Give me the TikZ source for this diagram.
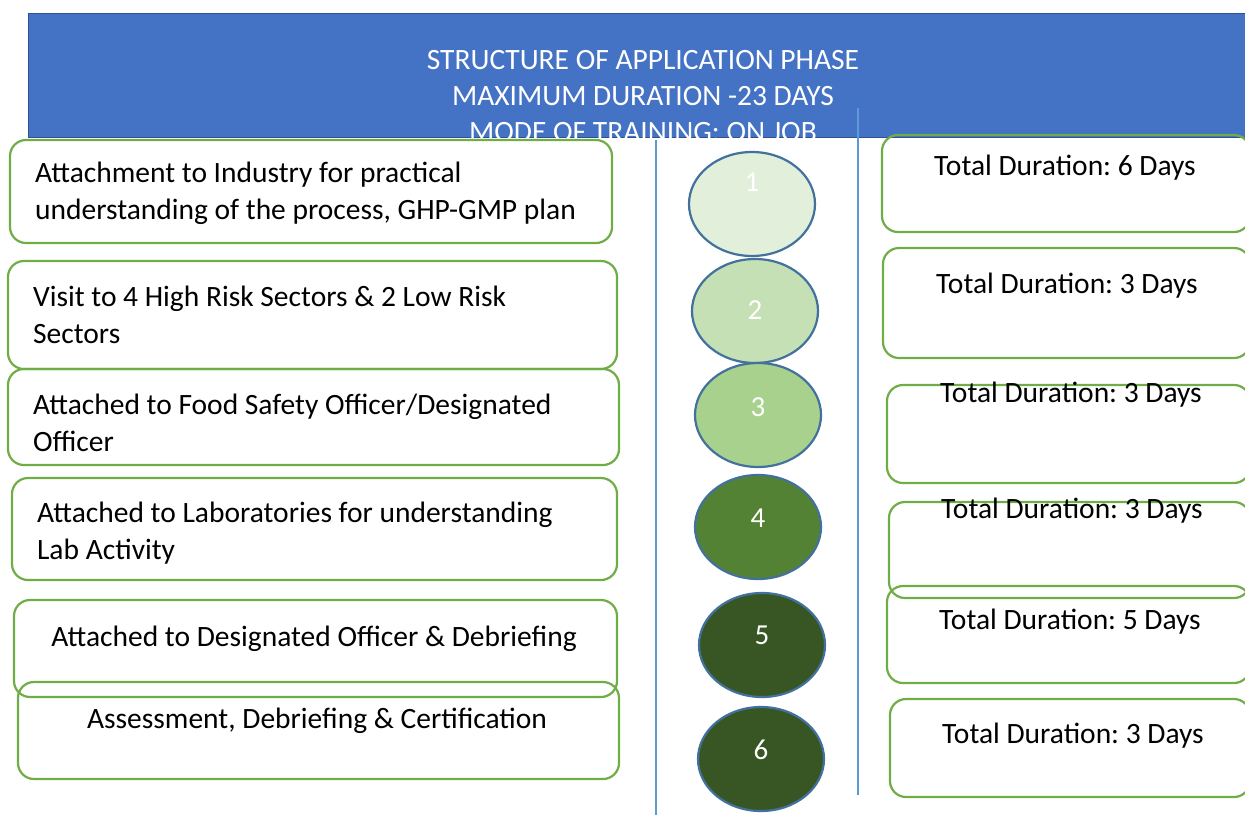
\documentclass[tikz,border=0pt]{standalone}
\usepackage{fontspec}
\setmainfont{Carlito}
\usepackage{tikz}
\usetikzlibrary{shapes.geometric}
\definecolor{hdrblue}{HTML}{4472C4}
\definecolor{hdredge}{HTML}{2F528F}
\definecolor{boxgreen}{HTML}{70AD47}
\definecolor{ringblue}{HTML}{41719C}
\definecolor{linblue}{HTML}{5B9BD5}
\definecolor{g1}{HTML}{E2EFDA}
\definecolor{g2}{HTML}{C5E0B4}
\definecolor{g3}{HTML}{A9D18E}
\definecolor{g4}{HTML}{548235}
\definecolor{g5}{HTML}{375623}
\definecolor{g6}{HTML}{375623}
\frenchspacing

\begin{document}
\begin{tikzpicture}[x=1pt,y=-1pt,
   header/.style={rectangle,fill=hdrblue,draw=hdredge,line width=1pt,inner sep=0pt},
   phasebox/.style={rectangle,rounded corners=16pt,draw=boxgreen,line width=2.2pt,inner sep=0pt},
   stepcircle/.style={ellipse,draw=ringblue,line width=2.2pt,minimum width=126pt,minimum height=104pt},
   divider/.style={draw=linblue,line width=1.2pt},
   txt/.style={font=\fontsize{29.5}{37.5}\selectfont,inner sep=0pt},
   numtxt/.style={font=\fontsize{29}{37}\selectfont,text=white,inner sep=0pt}]
   \clip (0,0) rectangle (1245,815);
   % title banner
   \node[header,minimum width=1222pt,minimum height=124pt] (hdr) at (639,75) {};
   \node[txt,text=white,align=center,font=\fontsize{29.5}{36}\selectfont] (title) at (643,96)
      {STRUCTURE OF APPLICATION PHASE\\MAXIMUM DURATION -23 DAYS\\MODE OF TRAINING: ON JOB};
   % column rules
   \coordinate (va) at (656,140);
   \coordinate (vb) at (656,815);
   \coordinate (vc) at (858,108);
   \coordinate (vd) at (858,795);
   \draw[divider] (va) -- (vb);
   \draw[divider] (vc) -- (vd);
   % activity boxes; format: {n/center x/center y/width/height}
   \foreach \n/\cx/\cy/\w/\h in {{1/311/191.5/602/103},{2/312.5/315/609/108},{3/313.5/417/611/96},{4/314.5/529/605/102},{5/315.5/648.5/603/97},{6/318.5/730.5/601/97}}
      \node[phasebox,minimum width=\w pt,minimum height=\h pt] (l\n) at (\cx,\cy) {};
   \node[txt,align=left,anchor=west,xshift=26pt,yshift=-2pt] (a1) at (l1.west)
      {Attachment to Industry for practical\\understanding of the process, GHP-GMP plan};
   \node[txt,align=left,anchor=west,xshift=26pt] (a2) at (l2.west)
      {Visit to 4 High Risk Sectors \& 2 Low Risk\\Sectors};
   \node[txt,align=left,anchor=west,xshift=26pt,yshift=-6pt] (a3) at (l3.west)
      {Attached to Food Safety Officer/Designated\\Officer};
   \node[txt,align=left,anchor=west,xshift=26pt,yshift=-4pt] (a4) at (l4.west)
      {Attached to Laboratories for understanding\\Lab Activity};
   \node[txt] (a5) at (314,639) {Attached to Designated Officer \& Debriefing};
   \node[txt] (a6) at (317,721) {Assessment, Debriefing \& Certification};
   % phase markers; format: {n/x/y/fill/label lift}
   \foreach \n/\cx/\cy/\col/\dy in {{1/752/204/g1/22},{2/755/311/g2/1},{3/758/415/g3/8},{4/758/527/g4/9},{5/762/645/g5/10},{6/761/759/g6/9}}
   {
      \node[stepcircle,fill=\col] (c\n) at (\cx,\cy) {};
      \node[numtxt,yshift=\dy pt] (n\n) at (c\n.center) {\n};
   }
   % duration boxes; format: {n/center x/center y/width/height/text x/text y/days}
   \foreach \n/\cx/\cy/\w/\h/\tx/\ty/\d in {{1/1066/183.5/368/97/1065/168/6},{2/1066.5/303/367/110/1067/286/3},{3/1068.5/434/363/98/1071/395/3},{4/1069.5/550/361/96/1072/511/3},{5/1068.5/634.5/363/97/1070/622/5},{6/1070/748/360/98/1073/736/3}}
   {
      \node[phasebox,minimum width=\w pt,minimum height=\h pt] (r\n) at (\cx,\cy) {};
      \node[txt] (t\n) at (\tx,\ty) {Total Duration: \d\ Days};
   }
\end{tikzpicture}
\end{document}
